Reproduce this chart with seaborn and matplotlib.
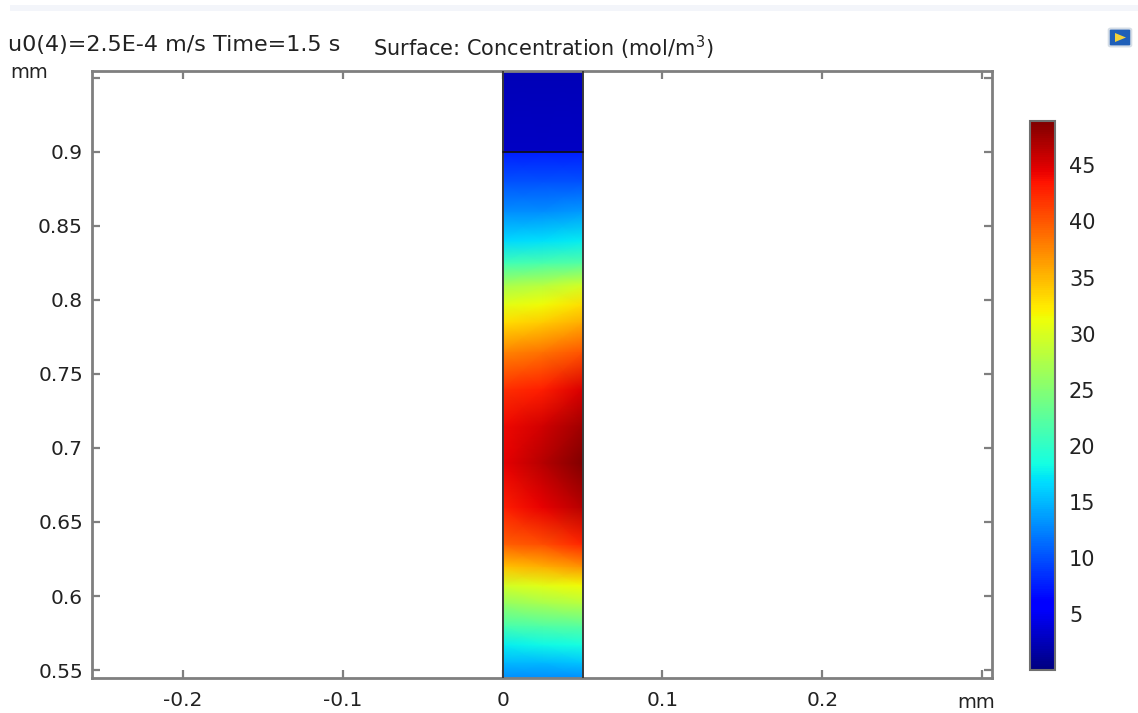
import numpy as np
import matplotlib
matplotlib.use("Agg")
import matplotlib.pyplot as plt
from matplotlib.patches import Rectangle, FancyBboxPatch, Polygon
import seaborn as sns

# Concentration (mol/m^3) sampled across the channel width at several heights (mm)
y_nodes = [0.5446, 0.555, 0.567, 0.58, 0.595, 0.607, 0.62, 0.635, 0.66, 0.69,
           0.715, 0.74, 0.765, 0.785, 0.797, 0.81, 0.825, 0.84, 0.86, 0.88, 0.9]
x_nodes = [0.0, 0.025, 0.05]
conc_left = [13.0, 15.0, 17.5, 21.5, 26.0, 29.5, 34.5, 39.5, 43.0, 44.5,
             44.0, 42.0, 37.5, 33.0, 30.5, 27.0, 21.0, 16.5, 13.0, 10.0, 7.5]
conc_mid = [13.0, 15.0, 18.0, 22.0, 27.0, 30.5, 35.5, 40.5, 44.5, 46.5,
            45.5, 43.0, 38.5, 34.0, 31.5, 28.0, 21.5, 17.0, 13.0, 10.0, 7.5]
conc_right = [13.0, 15.5, 18.5, 22.5, 28.0, 31.5, 37.0, 42.5, 46.5, 48.9,
              47.5, 45.0, 40.0, 35.5, 33.0, 29.5, 22.0, 17.5, 13.5, 10.0, 7.5]

# Upper inlet block
y_top = [0.9, 1.0]
conc_top = [3.0, 2.0]

c_min, c_max = 0.0, 48.96
cbar_ticks = [5, 10, 15, 20, 25, 30, 35, 40, 45]
x_ticks = [-0.2, -0.1, 0.0, 0.1, 0.2, 0.3]
x_ticklabels = ["-0.2", "-0.1", "0", "0.1", "0.2", ""]
y_ticks = [0.55, 0.6, 0.65, 0.7, 0.75, 0.8, 0.85, 0.9, 0.95]
y_ticklabels = ["0.55", "0.6", "0.65", "0.7", "0.75", "0.8", "0.85", "0.9", ""]

sns.set_theme(style="white")
plt.rcParams["font.family"] = ["DejaVu Sans"]
cmap = matplotlib.colormaps["jet"]

W, H = 1138, 713
fig = plt.figure(figsize=(W / 100, H / 100), dpi=100)
fig.patch.set_facecolor("white")

ax = fig.add_axes([92 / W, 1 - 678 / H, (992 - 92) / W, (678 - 71) / H])
ax.set_xlim(-0.2569, 0.3062)
ax.set_ylim(0.5446, 0.9547)

# Main channel field
X, Y = np.meshgrid(np.array(x_nodes), np.array(y_nodes))
C = np.column_stack([conc_left, conc_mid, conc_right])
mesh = ax.pcolormesh(X, Y, C, shading="gouraud", cmap=cmap, vmin=c_min, vmax=c_max)

Xt, Yt = np.meshgrid(np.array(x_nodes), np.array(y_top))
Ct = np.column_stack([conc_top, conc_top, conc_top])
ax.pcolormesh(Xt, Yt, Ct, shading="gouraud", cmap=cmap, vmin=c_min, vmax=c_max)

# Channel outline and internal boundary
ax.add_patch(Rectangle((0.0, 0.5), 0.05, 0.6, fill=False, edgecolor="#3a3a3a", lw=1.4, zorder=3))
ax.plot([0.0, 0.05], [0.9, 0.9], color="#101010", lw=1.2, zorder=3)

frame_col = "#7f7f7f"
for s in ax.spines.values():
    s.set_color(frame_col)
    s.set_linewidth(2.0)
    s.set_visible(True)

txt_col = "#222222"
ax.set_xticks(x_ticks)
ax.set_xticklabels(x_ticklabels)
ax.set_yticks(y_ticks)
ax.set_yticklabels(y_ticklabels)
ax.tick_params(axis="both", direction="in", length=6, width=1.6, color=frame_col,
               labelsize=14.5, labelcolor=txt_col,
               top=True, right=True, bottom=True, left=True)
ax.tick_params(axis="x", pad=9)
ax.tick_params(axis="y", pad=6.5)

# Unit labels and captions
fig.text(10 / W, 1 - 72 / H, "mm", fontsize=14, color=txt_col, va="center", ha="left")
fig.text(976 / W, 1 - 703 / H, "mm", fontsize=14, color=txt_col, va="center", ha="center")
fig.text(8 / W, 1 - 45 / H, "u0(4)=2.5E-4 m/s Time=1.5 s", fontsize=16,
         color=txt_col, va="center", ha="left")
fig.text(373 / W, 1 - 48 / H, "Surface: Concentration (mol/m$^3$)", fontsize=15,
         color=txt_col, va="center", ha="left")

# Colour legend
cax = fig.add_axes([1030 / W, 1 - 670 / H, 25 / W, (670 - 121) / H])
cb = fig.colorbar(mesh, cax=cax, ticks=cbar_ticks)
cb.outline.set_edgecolor("#6f6f6f")
cb.outline.set_linewidth(1.5)
cax.tick_params(direction="in", length=4, width=1.6, color="#303030",
                left=True, right=True, labelsize=15, labelcolor=txt_col, pad=10)
cax.yaxis.set_ticks_position("both")
cax.tick_params(labelleft=False, labelright=True)

# Faint toolbar strip along the top edge
fig.patches.append(Rectangle((10 / W, 1 - 11 / H), 1 - 10 / W, 6 / H,
                             transform=fig.transFigure, facecolor="#f3f5fa",
                             edgecolor="none", zorder=0))

# Small window icon in the top-right corner
fig.patches.append(FancyBboxPatch((1111 / W, 1 - 45 / H), 18 / W, 15 / H,
                                  boxstyle="round,pad=0.002", transform=fig.transFigure,
                                  facecolor="#1f5fb8", edgecolor="#d5dde6", lw=1.5))
fig.patches.append(Polygon([[1115 / W, 1 - 42 / H], [1126 / W, 1 - 37.5 / H],
                            [1115 / W, 1 - 33 / H]], closed=True,
                           transform=fig.transFigure, facecolor="#f2d13a", edgecolor="none"))

fig.savefig("out.png", dpi=100, facecolor="white")
